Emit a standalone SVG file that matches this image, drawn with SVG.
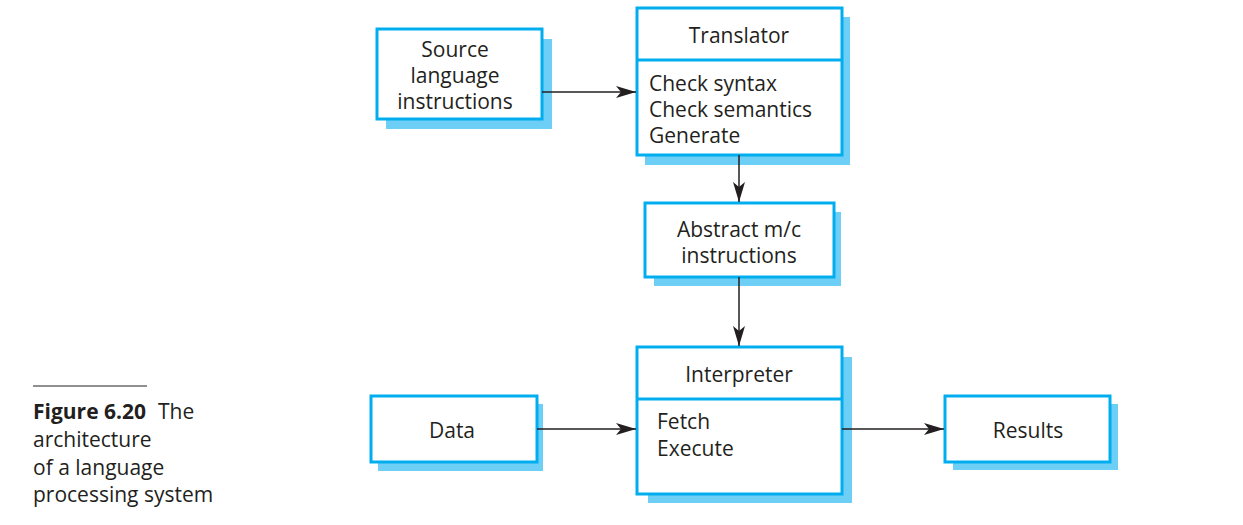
<svg xmlns="http://www.w3.org/2000/svg" width="1243" height="525" viewBox="0 0 1243 525">
<style>
.sh{fill:#6dcff6;stroke:none}
.bx{fill:#fff;stroke:#00aeef;stroke-width:3}
.dv{stroke:#00aeef;stroke-width:3}
text{font-family:"Open Sans","Liberation Sans",sans-serif;font-size:21px;fill:#231f20}
.c{text-anchor:middle}
.ln{stroke:#231f20;stroke-width:1.5;fill:none}
</style>
<defs>
<marker id="ah" markerWidth="20" markerHeight="12" refX="20" refY="6" orient="auto" markerUnits="userSpaceOnUse">
<path d="M0,0 L20,6 L0,12 L5,6 Z" fill="#231f20"/>
</marker>
</defs>
<rect width="1243" height="525" fill="#fff"/>
<g id="source">
<rect class="sh" x="386" y="39" width="166" height="90"/>
<rect class="bx" x="377" y="29" width="165" height="90"/>
<text class="c" x="455" y="57">Source</text>
<text class="c" x="455" y="83">language</text>
<text class="c" x="455" y="109">instructions</text>
</g>
<g id="translator">
<rect class="sh" x="645" y="17" width="205" height="148"/>
<rect class="bx" x="637" y="8" width="205" height="147"/>
<line class="dv" x1="637" y1="60" x2="842" y2="60"/>
<text class="c" x="739" y="43">Translator</text>
<text x="649" y="91">Check syntax</text>
<text x="649" y="117">Check semantics</text>
<text x="649" y="143">Generate</text>
</g>
<g id="abstract">
<rect class="sh" x="654" y="212" width="187" height="74"/>
<rect class="bx" x="645" y="203" width="189" height="74"/>
<text class="c" x="739" y="237">Abstract m/c</text>
<text class="c" x="739" y="263">instructions</text>
</g>
<g id="interpreter">
<rect class="sh" x="648" y="357" width="204" height="146"/>
<rect class="bx" x="637" y="347" width="205" height="147"/>
<line class="dv" x1="637" y1="399" x2="842" y2="399"/>
<text class="c" x="739" y="382">Interpreter</text>
<text x="657" y="429">Fetch</text>
<text x="657" y="456">Execute</text>
</g>
<g id="data">
<rect class="sh" x="378" y="404" width="165" height="67"/>
<rect class="bx" x="371" y="396" width="166" height="66"/>
<text class="c" x="452" y="438">Data</text>
</g>
<g id="results">
<rect class="sh" x="953" y="404" width="165" height="66"/>
<rect class="bx" x="945" y="396" width="165" height="66"/>
<text class="c" x="1028" y="438">Results</text>
</g>
<g id="connectors">
<line class="ln" x1="542" y1="92" x2="636" y2="92" marker-end="url(#ah)"/>
<line class="ln" x1="739" y1="155" x2="739" y2="202" marker-end="url(#ah)"/>
<line class="ln" x1="739" y1="277" x2="739" y2="346" marker-end="url(#ah)"/>
<line class="ln" x1="537" y1="429" x2="636" y2="429" marker-end="url(#ah)"/>
<line class="ln" x1="842" y1="429" x2="944" y2="429" marker-end="url(#ah)"/>
</g>
<g id="caption">
<line x1="33" y1="386" x2="147" y2="386" stroke="#231f20" stroke-width="1"/>
<text x="33" y="419"><tspan font-weight="bold">Figure 6.20</tspan><tspan x="158">The</tspan></text>
<text x="33" y="447">architecture</text>
<text x="33" y="475">of a language</text>
<text x="33" y="502">processing system</text>
</g>
</svg>
